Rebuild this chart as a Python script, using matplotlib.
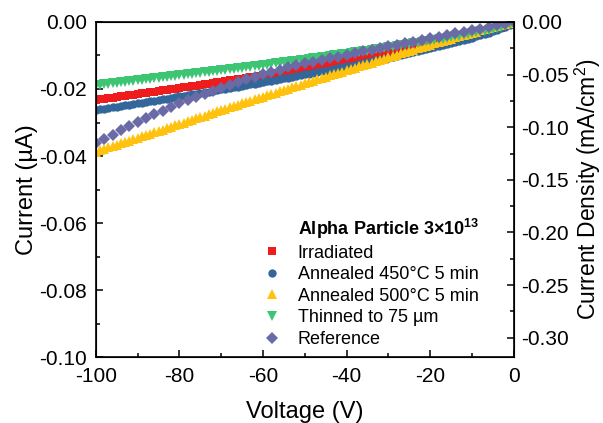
import numpy as np
import matplotlib
matplotlib.use("Agg")
import matplotlib.pyplot as plt
from matplotlib.ticker import MultipleLocator, FuncFormatter

plt.rcParams['font.family'] = ['Liberation Sans', 'DejaVu Sans']
plt.rcParams['mathtext.fontset'] = 'custom'
plt.rcParams['mathtext.rm'] = 'Liberation Sans'
plt.rcParams['mathtext.bf'] = 'Liberation Sans:bold'
plt.rcParams['axes.unicode_minus'] = False

# voltage sweep (V), 1 V steps from 0 down to -100
voltage = np.arange(0, -101, -1)
# reference sample was sampled every 2 V
voltage_ref = np.arange(0, -101, -2)

# |current| in units of 1e-4 uA, index = |V|
irradiated = [0, 7, 12, 17, 21, 25, 28, 32, 35, 38, 41,
              44, 47, 50, 53, 56, 59, 62, 64, 67, 70,
              72, 75, 77, 80, 82, 85, 87, 90, 92, 94,
              97, 99, 101, 104, 106, 108, 110, 113, 115, 117,
              119, 122, 124, 126, 128, 130, 132, 134, 136, 139,
              141, 143, 145, 147, 149, 151, 153, 155, 157, 159,
              161, 163, 165, 167, 169, 171, 173, 174, 176, 178,
              180, 182, 184, 186, 188, 190, 191, 193, 195, 197,
              199, 201, 203, 204, 206, 208, 210, 212, 213, 215,
              217, 219, 221, 222, 224, 226, 228, 229, 231, 233]
annealed_450 = [0, 8, 14, 19, 24, 28, 32, 36, 40, 43, 47,
                50, 53, 57, 60, 63, 66, 69, 73, 76, 79,
                82, 84, 87, 90, 93, 96, 98, 101, 104, 107,
                109, 112, 114, 117, 120, 122, 125, 127, 130, 132,
                135, 137, 140, 142, 145, 147, 149, 152, 154, 156,
                159, 161, 163, 166, 168, 170, 173, 175, 177, 179,
                182, 184, 186, 188, 190, 193, 195, 197, 199, 201,
                203, 206, 208, 210, 212, 214, 216, 218, 220, 222,
                225, 227, 229, 231, 233, 235, 237, 239, 241, 243,
                245, 247, 249, 251, 253, 255, 257, 259, 261, 263]
annealed_500 = [0, 3, 6, 9, 12, 15, 19, 22, 25, 29, 32,
                36, 39, 43, 46, 50, 54, 57, 61, 64, 68,
                72, 75, 79, 83, 87, 90, 94, 98, 102, 105,
                109, 113, 117, 121, 125, 128, 132, 136, 140, 144,
                148, 152, 156, 159, 163, 167, 171, 175, 179, 183,
                187, 191, 195, 199, 203, 207, 211, 215, 219, 223,
                227, 231, 235, 239, 243, 247, 251, 255, 259, 263,
                267, 271, 276, 280, 284, 288, 292, 296, 300, 304,
                308, 312, 316, 321, 325, 329, 333, 337, 341, 345,
                350, 354, 358, 362, 366, 370, 374, 379, 383, 387]
thinned = [0, 6, 10, 14, 17, 20, 23, 26, 28, 31, 33,
           36, 38, 41, 43, 45, 48, 50, 52, 54, 56,
           58, 60, 62, 64, 66, 68, 70, 72, 74, 76,
           78, 80, 82, 84, 86, 87, 89, 91, 93, 95,
           96, 98, 100, 102, 103, 105, 107, 108, 110, 112,
           113, 115, 117, 118, 120, 122, 123, 125, 127, 128,
           130, 131, 133, 135, 136, 138, 139, 141, 142, 144,
           145, 147, 148, 150, 152, 153, 155, 156, 158, 159,
           161, 162, 163, 165, 166, 168, 169, 171, 172, 174,
           175, 177, 178, 179, 181, 182, 184, 185, 187, 188]
reference = [0, 5, 10, 15, 20, 24, 29, 34, 39, 44, 49,
             54, 59, 64, 69, 73, 78, 83, 88, 93, 98,
             103, 108, 113, 118, 123, 129, 135, 142, 149, 156,
             163, 171, 179, 187, 196, 205, 214, 223, 233, 243,
             254, 265, 276, 287, 299, 311, 323, 336, 349, 362]

labels = ['Irradiated', 'Annealed 450°C 5 min', 'Annealed 500°C 5 min',
          'Thinned to 75 µm', 'Reference']
colors = ['#EE1C1C', '#33669A', '#FFC20E', '#3EC574', '#6A6AA6']
markers = ['s', 'o', '^', 'v', 'D']
sizes = [5.6, 6.0, 7.0, 7.0, 6.4]

# diode area used for current density (cm^2)
area = 3.1416e-4


def fmt2(v, pos):
    if abs(v) < 1e-9:
        return '0.00'
    return '%.2f' % v


fig = plt.figure(figsize=(6.03, 4.23), dpi=100)
ax = fig.add_axes([0.159, 0.156, 0.693, 0.792])

series = [irradiated, annealed_450, annealed_500, thinned]
for vals, lab, c, m, s in zip(series, labels[:4], colors[:4], markers[:4], sizes[:4]):
    ax.plot(voltage, -np.array(vals) * 1e-4, linestyle='none', marker=m,
            ms=s, color=c, markeredgewidth=0, label=lab)
ax.plot(voltage_ref, -np.array(reference) * 1e-4, linestyle='none', marker=markers[4],
        ms=sizes[4], color=colors[4], markeredgewidth=0, label=labels[4])

ax.set_xlim(-100, 0)
ax.set_ylim(-0.10, 0.0)
ax.xaxis.set_major_locator(MultipleLocator(20))
ax.xaxis.set_minor_locator(MultipleLocator(10))
ax.yaxis.set_major_locator(MultipleLocator(0.02))
ax.yaxis.set_minor_locator(MultipleLocator(0.01))
ax.yaxis.set_major_formatter(FuncFormatter(fmt2))
ax.tick_params(which='both', direction='in', top=False, labelsize=15, width=1.1)
ax.tick_params(which='major', length=5)
ax.tick_params(which='minor', length=3)
ax.tick_params(axis='x', pad=7)
ax.tick_params(axis='y', pad=6.5)
ax.set_xlabel('Voltage (V)', fontsize=17, labelpad=11)
ax.set_ylabel('Current (µA)', fontsize=17, labelpad=1)
for sp in ax.spines.values():
    sp.set_linewidth(1.2)

ax2 = ax.twinx()
ax2.set_ylim(-0.1e-3 / area, 0.0)
ax2.yaxis.set_major_locator(MultipleLocator(0.05))
ax2.yaxis.set_minor_locator(MultipleLocator(0.025))
ax2.yaxis.set_major_formatter(FuncFormatter(fmt2))
ax2.tick_params(which='both', direction='in', labelsize=15, width=1.1)
ax2.tick_params(which='major', length=5)
ax2.tick_params(which='minor', length=3)
ax2.tick_params(axis='y', pad=5)
ax2.set_ylabel('Current Density (mA/cm$^2$)', fontsize=16.5, labelpad=3)

leg = ax.legend(loc='upper left', bbox_to_anchor=(0.3995, 0.335), frameon=False,
                fontsize=13, handlelength=1.0, handletextpad=0.94,
                labelspacing=0.25, borderaxespad=0.0, borderpad=0.0)
ax.text(0.483, 0.382, 'Alpha Particle 3×10$^{\\mathbf{13}}$', transform=ax.transAxes,
        fontsize=13, fontweight='bold', ha='left', va='center')

fig.savefig('out.png', dpi=100)
